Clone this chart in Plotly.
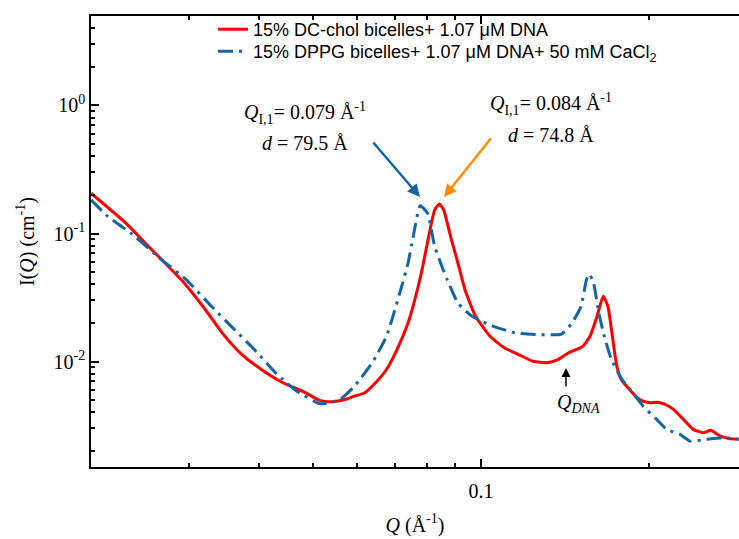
import plotly.graph_objects as go

# ---- data (Q in 1/Å, I in 1/cm) ----
q_dc = [0.0200, 0.0231, 0.02485, 0.02714, 0.02922, 0.0319, 0.03436, 0.0370, 0.0404,
        0.04416, 0.04825, 0.0512, 0.0530, 0.0551, 0.0575, 0.0593, 0.0619, 0.0647,
        0.0677, 0.0707, 0.0740, 0.0761, 0.0784, 0.0808, 0.0826, 0.0842, 0.0857,
        0.0882, 0.0909, 0.0936, 0.0978, 0.1038, 0.1101, 0.1168, 0.1239, 0.1313,
        0.1373, 0.1435, 0.1522, 0.1568, 0.1614, 0.1656, 0.1688, 0.1713, 0.1751,
        0.1785, 0.1824, 0.1898, 0.1950, 0.2008, 0.2070, 0.2137, 0.2212, 0.2305,
        0.2400, 0.2502, 0.2580, 0.2680, 0.2780, 0.2894]
i_dc = [0.2065, 0.1205, 0.0867, 0.0588, 0.0422, 0.0262, 0.01674, 0.0117, 0.00866,
        0.00682, 0.00576, 0.0050, 0.00485, 0.0049, 0.0051, 0.00536, 0.0057, 0.00682,
        0.00866, 0.0124, 0.0200, 0.0304, 0.0521, 0.1007, 0.153, 0.170, 0.153,
        0.0947, 0.0588, 0.0364, 0.02254, 0.01574, 0.0128, 0.01133, 0.01005, 0.00977,
        0.01035, 0.0117, 0.01315, 0.01574, 0.02254, 0.0323, 0.0270, 0.01775, 0.0092,
        0.0072, 0.0064, 0.0053, 0.0049, 0.00477, 0.0048, 0.00462, 0.00423, 0.00353,
        0.00295, 0.00278, 0.0029, 0.00262, 0.0025, 0.00247]

q_pg = [0.0200, 0.02145, 0.02378, 0.02674, 0.02965, 0.03287, 0.0359, 0.03924, 0.04285,
        0.0468, 0.0512, 0.0527, 0.0559, 0.0593, 0.0638, 0.0677, 0.0718, 0.0740,
        0.0755, 0.0778, 0.0802, 0.0826, 0.0851, 0.0870, 0.0909, 0.0964, 0.1053,
        0.1151, 0.1276, 0.1393, 0.1456, 0.1511, 0.1545, 0.1563, 0.1591, 0.1626,
        0.1663, 0.1713, 0.1790, 0.1871, 0.1953, 0.2064, 0.2152, 0.2273, 0.2368,
        0.2537, 0.2718, 0.2894]
i_pg = [0.183, 0.1356, 0.0977, 0.0624, 0.0435, 0.0270, 0.0183, 0.0124, 0.00816,
        0.00586, 0.0047, 0.0047, 0.00506, 0.00641, 0.00977, 0.01574, 0.0364, 0.0588,
        0.092, 0.165, 0.144, 0.0792, 0.0553, 0.0435, 0.02866, 0.02254, 0.01884,
        0.01674, 0.01622, 0.0164, 0.0200, 0.0270, 0.0435, 0.0482, 0.041, 0.02395,
        0.01574, 0.01035, 0.00723, 0.0057, 0.00448, 0.00353, 0.00295, 0.0027, 0.00239,
        0.00247, 0.00254, 0.00247]

name_dc = "15% DC-chol bicelles+ 1.07 \u03bcM DNA"
name_pg = "15% DPPG bicelles+ 1.07 \u03bcM DNA+ 50 mM CaCl<sub>2</sub>"

x_major = [0.1]
x_minor = [0.03, 0.04, 0.05, 0.06, 0.07, 0.08, 0.09, 0.2]
y_major = [0.01, 0.1, 1]
y_major_text = ["10<sup>-2</sup>", "10<sup>-1</sup>", "10<sup>0</sup>"]
y_minor = [m * 10.0 ** e for e in (-3, -2, -1, 0) for m in range(2, 10)]

RED = "#ff0000"
BLUE = "#1565a3"
ORANGE = "#ff8c00"
SERIF = "Liberation Serif"
SANS = "Liberation Sans"

fig = go.Figure()
fig.add_trace(go.Scatter(x=q_dc, y=i_dc, mode="lines", name=name_dc, legend="legend",
                         line=dict(color=RED, width=3, shape="spline", smoothing=0.5)))
fig.add_trace(go.Scatter(x=q_pg, y=i_pg, mode="lines", name=name_pg, legend="legend2",
                         line=dict(color=BLUE, width=3, dash="15px,6px,3px,6px",
                                   shape="spline", smoothing=0.5)))

W, H = 739, 539
L, R, T, B = 91, 0, 16, 72
pw, ph = W - L - R, H - T - B


def px(xp):
    return (xp - L) / pw


def py(yp):
    return (H - B - yp) / ph


ann = []
# text labels
for txt, xx, yy in [
    ("<i>Q</i><sub>I,1</sub>= 0.079 \u00c5<sup>-1</sup>", 305, 113),
    ("<i>d</i> = 79.5 \u00c5", 305, 143),
    ("<i>Q</i><sub>I,1</sub>= 0.084 \u00c5<sup>-1</sup>", 551, 104),
    ("<i>d</i> = 74.8 \u00c5", 551, 135),
    ("<i>Q<sub>DNA</sub></i>", 578, 403),
]:
    ann.append(dict(text=txt, x=px(xx), y=py(yy), xref="paper", yref="paper",
                    showarrow=False, xanchor="center", yanchor="middle",
                    font=dict(family=SERIF, size=20, color="black")))
# arrows
for (hx, hy, tx, ty, col, w, sz) in [
    (420, 197, 372, 141, BLUE, 2.5, 1.0),
    (444, 197, 492, 137, ORANGE, 2.5, 1.0),
    (566, 368, 566, 388, "black", 1.5, 1.2),
]:
    ann.append(dict(text="", x=px(hx), y=py(hy), xref="paper", yref="paper",
                    showarrow=True, ax=tx - hx, ay=ty - hy, arrowcolor=col,
                    arrowwidth=w, arrowhead=2, arrowsize=sz))

leg_common = dict(xanchor="left", yanchor="top", bgcolor="rgba(0,0,0,0)",
                  borderwidth=0, font=dict(family=SANS, size=18, color="black"))

fig.update_layout(
    width=W, height=H,
    margin=dict(l=L, r=R, t=T, b=B, pad=0, autoexpand=False),
    plot_bgcolor="white", paper_bgcolor="white",
    showlegend=True,
    legend=dict(x=px(213), y=py(11), **leg_common),
    legend2=dict(x=px(213), y=py(33), **leg_common),
    annotations=ann,
)
fig.update_xaxes(
    type="log", range=[-1.69897, -1.69897 + pw / 558.0], automargin=False,
    showgrid=False, zeroline=False,
    showline=True, linecolor="black", linewidth=1.5, mirror="ticks",
    ticks="inside", ticklen=8, tickwidth=1.5, tickcolor="black",
    tickmode="array", tickvals=x_major, ticktext=["0.1"], ticklabelstandoff=5,
    minor=dict(tickmode="array", tickvals=x_minor, ticks="inside", ticklen=4,
               tickwidth=1.5, tickcolor="black", showgrid=False),
    tickfont=dict(family=SERIF, size=20, color="black"),
    title=dict(text="<i>Q</i> (\u00c5<sup>-1</sup>)", standoff=17,
               font=dict(family=SERIF, size=20, color="black")),
)
fig.update_yaxes(
    type="log", range=[-2.824, 0.699], automargin=False,
    showgrid=False, zeroline=False,
    showline=True, linecolor="black", linewidth=1.5, mirror=False,
    ticks="inside", ticklen=8, tickwidth=1.5, tickcolor="black",
    tickmode="array", tickvals=y_major, ticktext=y_major_text,
    minor=dict(tickmode="array", tickvals=y_minor, ticks="inside", ticklen=4,
               tickwidth=1.5, tickcolor="black", showgrid=False),
    tickfont=dict(family=SERIF, size=20, color="black"),
    title=dict(text="I(<i>Q</i>) (cm<sup>-1</sup>)", standoff=14,
               font=dict(family=SERIF, size=20, color="black")),
)

fig.write_html("out.html", config={"displayModeBar": False},
               post_script="document.body.style.margin='0px';")
